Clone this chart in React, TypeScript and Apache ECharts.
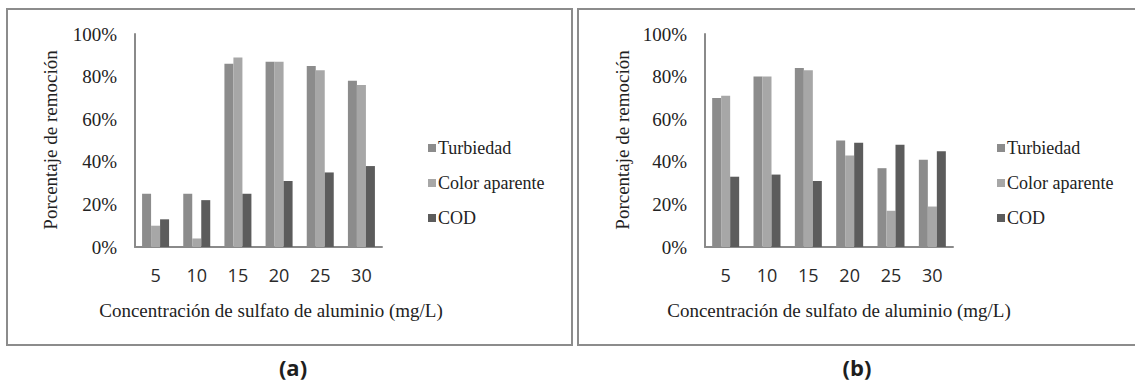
import React, { useEffect, useRef } from "react";
import * as echarts from "echarts";

const categories = ["5", "10", "15", "20", "25", "30"];
const seriesNames = ["Turbiedad", "Color aparente", "COD"];
const yTicks = [0, 20, 40, 60, 80, 100];

// Panel (a)
const turbiedadA = [25, 25, 86, 87, 85, 78];
const colorA = [10, 4, 89, 87, 83, 76];
const codA = [13, 22, 25, 31, 35, 38];

// Panel (b)
const turbiedadB = [70, 80, 84, 50, 37, 41];
const colorB = [71, 80, 83, 43, 17, 19];
const codB = [33, 34, 31, 49, 48, 45];

const colors = ["#8c8c8c", "#a7a7a7", "#5c5c5c"];
const serif = "'Liberation Serif', 'Times New Roman', serif";
const sans = "'Open Sans', 'Liberation Sans', sans-serif";
const textColor = "#222222";

export default function App() {
  const ref = useRef<HTMLDivElement>(null);
  useEffect(() => {
    if (!ref.current) return;
    const chart = echarts.init(ref.current, undefined, { renderer: "svg" });
    const grids = [
      { left: 135, top: 34, width: 247, height: 213 },
      { left: 705, top: 34, width: 248, height: 213 },
    ];
    const xAxes = grids.map((_, i) => ({
      type: "category" as const,
      gridIndex: i,
      data: categories,
      axisLine: { show: true, lineStyle: { color: "#8a8a8a", width: 2 } },
      axisTick: { show: false },
      axisLabel: { color: "#2a2a2a", fontFamily: sans, fontSize: 18, margin: 19 },
    }));
    const yAxes = grids.map((_, i) => ({
      type: "value" as const,
      gridIndex: i,
      min: 0,
      max: 100,
      interval: 20,
      axisLine: { show: true, lineStyle: { color: "#8a8a8a", width: 2 } },
      axisTick: { show: false },
      splitLine: { show: false },
      axisLabel: {
        color: textColor,
        fontFamily: serif,
        fontSize: 19,
        margin: 18,
        formatter: (v: number) => (yTicks.includes(v) ? v + "%" : ""),
      },
    }));
    const dataSets = [
      [turbiedadA, colorA, codA],
      [turbiedadB, colorB, codB],
    ];
    const series: any[] = [];
    dataSets.forEach((set, gi) => {
      set.forEach((vals, si) => {
        series.push({
          type: "bar",
          name: seriesNames[si],
          xAxisIndex: gi,
          yAxisIndex: gi,
          data: vals,
          barWidth: 9,
          barGap: "0%",
          itemStyle: { color: colors[si] },
        });
      });
    });
    const legendCommon = {
      orient: "vertical" as const,
      data: seriesNames,
      icon: "rect",
      itemWidth: 8,
      itemHeight: 8,
      itemGap: 17,
      selectedMode: false,
      textStyle: { fontFamily: serif, fontSize: 18, color: textColor, padding: [0, 0, 0, -3] },
    };
    const t = (text: string, x: number, y: number, extra: any = {}) => ({
      type: "text",
      x,
      y,
      ...extra.el,
      style: { text, fontFamily: serif, fontSize: 19, fill: textColor, align: "center", verticalAlign: "middle", ...extra.style },
    });
    chart.setOption({
      animation: false,
      backgroundColor: "#ffffff",
      grid: grids,
      xAxis: xAxes,
      yAxis: yAxes,
      series,
      legend: [
        { ...legendCommon, left: 423, top: 134 },
        { ...legendCommon, left: 992, top: 134 },
      ],
      graphic: [
        { type: "rect", shape: { x: 7, y: 9, width: 565, height: 336 }, style: { fill: "none", stroke: "#8c8c8c", lineWidth: 2 } },
        { type: "rect", shape: { x: 578, y: 9, width: 570, height: 336 }, style: { fill: "none", stroke: "#8c8c8c", lineWidth: 2 } },
        t("Porcentaje de remoción", 50, 140, { el: { rotation: Math.PI / 2 } }),
        t("Porcentaje de remoción", 622, 140, { el: { rotation: Math.PI / 2 } }),
        t("Concentración de sulfato de aluminio (mg/L)", 271, 310),
        t("Concentración de sulfato de aluminio (mg/L)", 839, 310),
        t("(a)", 293, 367, { style: { fontFamily: sans, fontWeight: "bold", fontSize: 22, fill: "#1e1e1e" } }),
        t("(b)", 857, 367, { style: { fontFamily: sans, fontWeight: "bold", fontSize: 22, fill: "#1e1e1e" } }),
      ],
    });
    return () => chart.dispose();
  }, []);
  return <div ref={ref} style={{ position: "absolute", left: 0, top: 0, width: 1135, height: 388 }} />;
}
